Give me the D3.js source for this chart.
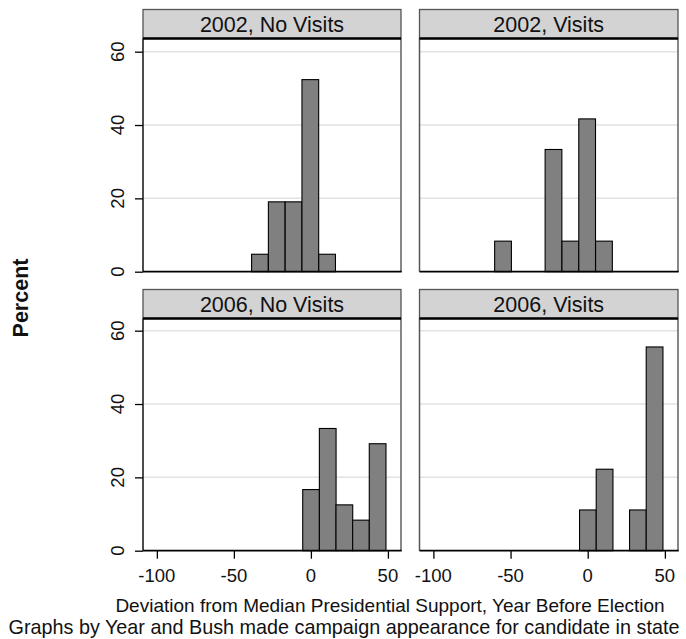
<!DOCTYPE html>
<html>
<head>
<meta charset="utf-8">
<script src="https://cdn.jsdelivr.net/npm/d3@7"></script>
<style>
body { margin: 0; background: #fff; }
text { font-family: Arial, "Liberation Sans", sans-serif; fill: #111; }
</style>
</head>
<body>
<svg width="686" height="639"></svg>
<script>
// panel labels, in reading order
const panelTitles = ["2002, No Visits", "2002, Visits", "2006, No Visits", "2006, Visits"]

// histogram bins: left edge of each bar and its percent
const binWidth = 10.85
const binStarts = [
    [-38.5, -27.6, -16.7, -5.8, 5.1],
    [-60.3, -27.6, -16.7, -5.8, 5.1],
    [-5.3, 5.5, 16.3, 27.1, 37.9],
    [-5.3, 5.5, 27.1, 37.9]
]
const percents = [
    [4.76, 19.05, 19.05, 52.38, 4.76],
    [8.33, 33.33, 8.33, 41.67, 8.33],
    [16.67, 33.33, 12.5, 8.33, 29.17],
    [11.11, 22.22, 11.11, 55.56]
]

const xTicks = [-100, -50, 0, 50]
const yTicks = [0, 20, 40, 60]
const gridTicks = [20, 40, 60]

const xTitle = "Deviation from Median Presidential Support, Year Before Election"
const noteText = "Graphs by Year and Bush made campaign appearance for candidate in state"
const yTitle = "Percent"

const svg = d3.select('svg')

const cols = [{x0: 143, x1: 401}, {x0: 419.5, x1: 678}]
const rows = [
    {stripTop: 9.5, plotTop: 38.5, base: 271.7},
    {stripTop: 289.5, plotTop: 318.5, base: 550.7}
]

const drawPanel = (i) => {
    const col = cols[i % 2]
    const row = rows[Math.floor(i / 2)]
    const isBottom = i >= 2
    const isLeft = i % 2 === 0

    const x = d3.scaleLinear().domain([-109, 58.5]).range([col.x0, col.x1])
    const y = d3.scaleLinear().domain([0, 63.5]).range([row.base, row.base - 63.5 * 3.667])

    const g = svg.append('g').attr('class', 'panel')

    // gridlines
    g.selectAll('.grid')
        .data(gridTicks).enter()
        .append('line')
        .attr('x1', col.x0).attr('x2', col.x1)
        .attr('y1', d => y(d)).attr('y2', d => y(d))
        .attr('stroke', '#e2e2e2')
        .attr('stroke-width', 1.5)

    // bars
    const bins = binStarts[i].map((s, k) => ({x0: s, x1: s + binWidth, v: percents[i][k]}))
    g.selectAll('.bar')
        .data(bins).enter()
        .append('rect')
        .attr('x', d => x(d.x0))
        .attr('width', d => x(d.x1) - x(d.x0))
        .attr('y', d => y(d.v))
        .attr('height', d => y(0) - y(d.v))
        .attr('fill', '#808080')
        .attr('stroke', '#000')
        .attr('stroke-width', 1.1)

    // right border
    g.append('line')
        .attr('x1', col.x1).attr('x2', col.x1)
        .attr('y1', row.plotTop).attr('y2', row.base)
        .attr('stroke', '#555').attr('stroke-width', 1.4)

    // y axis
    const yAxis = g.append('g')
        .attr('transform', `translate(${col.x0},0)`)
        .call(d3.axisLeft(y).tickValues(yTicks).tickSize(isLeft ? 8 : 0).tickFormat(''))
    yAxis.select('.domain').remove()
    yAxis.selectAll('line').attr('stroke', '#000').attr('stroke-width', 1.3)
    g.append('line')
        .attr('x1', col.x0).attr('x2', col.x0)
        .attr('y1', row.plotTop).attr('y2', row.base)
        .attr('stroke', isLeft ? '#111' : '#555').attr('stroke-width', 1.5)

    if (isLeft) {
        g.selectAll('.ylab')
            .data(yTicks).enter()
            .append('text')
            .attr('transform', d => `translate(123.5,${y(d)}) rotate(-90)`)
            .attr('text-anchor', 'middle')
            .style('font-size', '18.5px')
            .text(d => d)
    }

    // x axis
    const xAxis = g.append('g')
        .attr('transform', `translate(0,${row.base})`)
        .call(d3.axisBottom(x).tickValues(isBottom ? xTicks : []).tickSize(8).tickFormat(''))
    xAxis.select('.domain').remove()
    xAxis.selectAll('line').attr('stroke', '#000').attr('stroke-width', 1.3)
    g.append('line')
        .attr('x1', col.x0).attr('x2', col.x1 + 0.7)
        .attr('y1', row.base).attr('y2', row.base)
        .attr('stroke', '#000').attr('stroke-width', 1.8)

    if (isBottom) {
        g.selectAll('.xlab')
            .data(xTicks).enter()
            .append('text')
            .attr('x', d => x(d))
            .attr('y', 581.7)
            .attr('text-anchor', 'middle')
            .style('font-size', '18.5px')
            .text(d => d)
    }

    // strip
    g.append('rect')
        .attr('x', col.x0).attr('y', row.stripTop)
        .attr('width', col.x1 - col.x0).attr('height', row.plotTop - row.stripTop)
        .attr('fill', '#d3d3d3')
        .attr('stroke', '#555').attr('stroke-width', 1.3)
    g.append('line')
        .attr('x1', col.x0).attr('x2', col.x1)
        .attr('y1', row.plotTop).attr('y2', row.plotTop)
        .attr('stroke', '#000').attr('stroke-width', 2.6)
    g.append('text')
        .attr('x', (col.x0 + col.x1) / 2)
        .attr('y', row.stripTop + 22.2)
        .attr('text-anchor', 'middle')
        .style('font-size', '21.5px')
        .text(panelTitles[i])
}

panelTitles.forEach((d, i) => drawPanel(i))

svg.append('text')
    .attr('transform', 'translate(28.3,298) rotate(-90)')
    .attr('text-anchor', 'middle')
    .style('font-size', '21.5px')
    .style('font-weight', 'bold')
    .text(yTitle)

svg.append('text')
    .attr('x', 390).attr('y', 612)
    .attr('text-anchor', 'middle')
    .style('font-size', '19px')
    .text(xTitle)

svg.append('text')
    .attr('x', 344).attr('y', 634)
    .attr('text-anchor', 'middle')
    .style('font-size', '19.8px')
    .text(noteText)
</script>
</body>
</html>
